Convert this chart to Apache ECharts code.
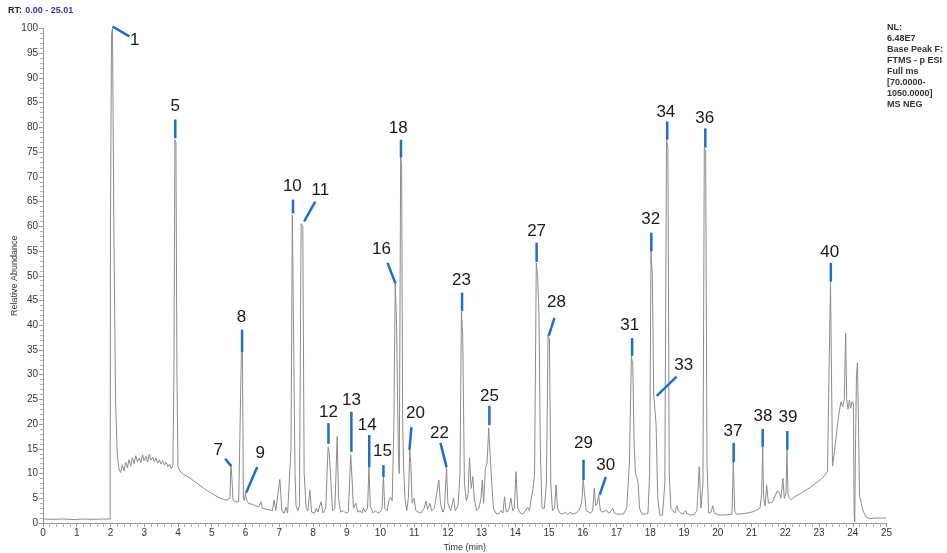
<!DOCTYPE html>
<html>
<head>
<meta charset="utf-8">
<script src="https://cdn.jsdelivr.net/npm/echarts@6/dist/echarts.min.js"></script>
<style>
  html, body { margin: 0; padding: 0; background: #fff; }
  #chart { width: 947px; height: 553px; }
</style>
</head>
<body>
<div id="chart"></div>
<script>
// base peak chromatogram as [time (min), relative abundance]
var trace = [
  [0,0.8],[0.3,0.75],[0.6,0.8],[0.9,0.7],[1.2,0.8],[1.5,0.75],[1.8,0.8],[1.99,0.8],
  [2.0,60],[2.03,99],[2.06,100],[2.1,60],[2.15,25],[2.2,14],[2.25,11],
  [2.3,10.2],[2.35,11.8],[2.4,10.5],[2.45,12.3],[2.5,11.2],[2.55,12.8],[2.6,11.5],[2.65,13.2],[2.7,12],
  [2.75,13.6],[2.8,12.4],[2.85,13.1],[2.9,12.2],[2.95,13.8],[3.0,12.6],[3.05,13.5],[3.1,12.3],[3.15,13.9],
  [3.2,12.7],[3.25,13.3],[3.3,12.4],[3.35,13.1],[3.4,12.1],[3.45,12.8],[3.5,11.9],[3.55,12.6],[3.6,11.7],
  [3.65,12.3],[3.7,11.4],[3.75,11.9],[3.8,11.0],[3.85,11.6],
  [3.88,30],[3.91,77.5],[3.94,77],[3.97,30],[4.0,11.5],[4.05,10.5],
  [4.1,10.8],[4.15,9.9],[4.2,10.3],[4.25,9.5],[4.3,9.9],[4.35,9.1],[4.4,9.4],[4.45,8.6],[4.5,8.9],[4.55,8.1],
  [4.6,8.4],[4.65,7.6],[4.7,7.9],[4.75,7.1],[4.8,7.4],[4.85,6.6],[4.9,6.9],[4.95,6.2],[5.0,6.5],[5.05,5.8],
  [5.1,6.0],[5.15,5.4],[5.2,5.6],[5.25,5.0],[5.3,5.3],[5.35,4.8],[5.4,5.0],[5.45,4.6],[5.5,4.8],[5.54,5.0],
  [5.57,11.8],[5.6,9],[5.63,4.6],[5.7,4.3],[5.75,4.1],[5.8,4.3],[5.85,4.0],
  [5.88,34.5],[5.91,35],[5.94,5],
  [5.97,4.5],[6.0,6.1],[6.03,4.8],[6.1,3.9],[6.15,3.6],[6.2,3.8],[6.25,3.4],[6.3,3.5],[6.35,3.2],[6.4,3.3],
  [6.46,4.3],[6.5,3.0],[6.55,3.2],[6.6,2.8],[6.65,2.6],[6.7,2.7],[6.75,2.4],[6.8,2.5],[6.85,4.6],[6.9,2.5],
  [6.95,2.2],[7.02,8.8],[7.08,2.4],[7.15,2.0],[7.2,3.2],[7.25,2.0],[7.3,2.2],[7.35,15],
  [7.39,62.3],[7.43,62],[7.47,10],[7.5,3.5],[7.55,2.5],[7.6,3.5],
  [7.65,60.5],[7.7,60],[7.74,10],[7.8,3],[7.85,2.5],[7.91,6.7],[7.96,2.2],[8.05,2],[8.1,3.0],[8.15,2.2],
  [8.24,4.3],[8.3,2.0],[8.38,3],
  [8.45,15.4],[8.48,14.5],[8.52,10],[8.58,2.5],[8.65,3],[8.72,17.5],[8.76,5],[8.82,2.2],[8.9,2.5],[8.97,2.0],[9.05,2.2],
  [9.12,13.8],[9.16,9],[9.2,3],[9.27,4],[9.33,2.2],[9.4,2.5],[9.45,2],[9.5,3],[9.55,2.2],[9.62,3],
  [9.66,11.4],[9.7,3.5],[9.78,2.0],[9.85,2.5],[9.92,2.0],[10.0,2.3],[10.05,3],
  [10.09,9.4],[10.13,3],[10.2,2.5],[10.25,4.5],[10.3,5.2],[10.35,4.5],[10.4,20],
  [10.44,48.5],[10.48,40],[10.53,15],[10.56,10],
  [10.6,73.9],[10.63,72],[10.66,20],[10.69,11],[10.73,5],[10.78,2.5],[10.83,5],
  [10.87,14.8],[10.9,12],[10.94,4],[11.0,5],[11.05,2.5],[11.12,2.2],[11.2,2.0],[11.3,3],[11.35,4.4],[11.4,2.8],
  [11.47,4],[11.52,2.5],[11.6,3],[11.67,6],[11.73,8.7],[11.78,4],[11.85,2.2],[11.9,3],
  [11.96,11.4],[12.0,4],[12.08,2.5],[12.17,5],[12.22,2.5],[12.3,3.5],[12.36,10],
  [12.4,42.8],[12.44,38],[12.49,8],[12.55,4.5],[12.6,6],[12.64,13.2],[12.69,7],[12.74,9.4],[12.78,5],
  [12.85,2.5],[12.92,3],[12.98,5],[13.02,8.7],[13.06,4],[13.11,11],[13.16,12],
  [13.21,19.2],[13.25,14],[13.3,8],[13.35,3],[13.42,2],[13.5,1.8],[13.58,2.5],[13.63,2],[13.68,5.3],[13.73,2.2],
  [13.8,2.5],[13.87,5],[13.92,2.5],[13.97,3],[14.02,10.4],[14.07,3],[14.15,2],[14.22,1.8],[14.3,2.5],[14.36,3.2],
  [14.42,2.5],[14.47,5],[14.52,6.7],[14.57,10],
  [14.62,52.6],[14.66,50],[14.7,42],[14.74,15],[14.79,3],[14.86,3],[14.92,8],
  [14.97,38],[15.01,37],[15.05,8],[15.1,2.5],[15.16,3],[15.21,7.7],[15.25,3],[15.32,2.0],[15.4,1.8],[15.48,2.2],
  [15.55,1.7],[15.62,2.2],[15.7,1.8],[15.8,2],[15.88,2.5],[15.94,3.5],[15.97,4.6],
  [16.01,8.7],[16.05,6],[16.1,2.5],[16.17,2.2],[16.23,2],[16.29,2.5],[16.34,7.1],[16.38,3.5],[16.43,4],[16.47,5.7],
  [16.52,2.5],[16.6,2.2],[16.65,1.8],[16.7,2.6],[16.76,2],[16.82,2.2],[16.88,3],[16.94,2.0],[17.0,1.8],[17.1,1.8],
  [17.2,1.8],[17.3,3],[17.38,12],
  [17.44,33.7],[17.48,32],[17.52,16],[17.56,10],[17.6,9.2],[17.64,8],[17.68,3],[17.75,1.8],[17.85,1.8],[17.93,2],[17.98,10],
  [18.02,54.9],[18.06,50],[18.1,26],[18.13,26.3],[18.17,20],[18.22,5],[18.28,1.6],[18.36,1.6],[18.43,8],
  [18.48,77.5],[18.52,76],[18.56,10],[18.61,3],[18.67,2.5],[18.73,2.0],[18.78,3.5],[18.83,2.5],[18.9,2.0],[18.97,1.8],
  [19.04,2.5],[19.1,1.8],[19.2,1.6],[19.3,1.7],[19.38,2.5],[19.45,11.4],[19.5,3],[19.56,8],
  [19.6,75.8],[19.64,75],[19.68,12],[19.73,2],[19.8,2.2],[19.85,3.5],[19.9,2],[20.0,1.7],[20.1,1.6],[20.2,1.6],
  [20.3,1.7],[20.42,1.8],
  [20.46,12.4],[20.5,2.5],[20.55,1.8],[20.65,1.8],[20.75,1.9],[20.85,2.0],[20.95,2.1],[21.05,2.3],[21.15,2.6],[21.25,3.0],[21.3,6],
  [21.33,15.4],[21.36,5],[21.4,3.5],[21.45,7.6],[21.5,4],[21.55,3.8],[21.62,4.2],[21.7,5.5],[21.76,6.5],[21.82,6.2],
  [21.87,5.0],[21.93,9],[21.97,5],[22.02,6],
  [22.05,14.8],[22.08,6],[22.12,5],[22.18,4.7],[22.25,5.2],[22.3,5.0],[22.35,5.6],[22.4,5.3],[22.45,5.9],[22.5,5.7],
  [22.55,6.4],[22.6,6.1],[22.65,6.8],[22.7,6.6],[22.75,7.2],[22.8,7.0],[22.85,7.8],[22.9,7.4],[22.95,8.3],[23.0,8.0],
  [23.05,8.8],[23.1,8.6],[23.15,9.5],[23.2,9.2],[23.25,10.4],[23.3,10.5],
  [23.34,48.8],[23.37,30],[23.4,11.5],[23.45,14],[23.5,17],[23.55,20],[23.6,22.5],[23.65,24.5],[23.7,23.5],[23.75,25],
  [23.79,38.4],[23.82,25],[23.86,23],[23.9,24.8],[23.94,23.2],[23.98,24.6],[24.02,24],[24.04,2],[24.06,0.2],
  [24.08,15],[24.11,30],[24.14,32.4],[24.17,20],[24.2,5.6],[24.25,4],[24.3,2.5],[24.4,1.2],[24.5,0.9],[24.7,1.0],
  [24.9,1.0],[25.0,1.0]
];

// peak numbers: [name, label time, label abundance, leader from (t, v), leader to (t, v)]
var peaks = [
  ['1', 2.72, 97.6, 2.06, 100.4, 2.56, 98.4],
  ['5', 3.92, 84.2, 3.92, 81.6, 3.92, 77.8],
  ['7', 5.19, 14.6, 5.40, 13.0, 5.58, 11.5],
  ['8', 5.88, 41.5, 5.90, 39.1, 5.90, 34.6],
  ['9', 6.44, 14.0, 6.35, 11.3, 6.02, 6.1],
  ['10', 7.39, 68.0, 7.41, 65.4, 7.41, 62.6],
  ['11', 8.22, 67.2, 8.07, 65.0, 7.74, 61.0],
  ['12', 8.46, 22.3, 8.46, 20.2, 8.46, 16.0],
  ['13', 9.14, 24.9, 9.14, 22.5, 9.14, 14.4],
  ['14', 9.61, 19.8, 9.67, 17.8, 9.67, 11.3],
  ['15', 10.06, 14.4, 10.09, 11.7, 10.09, 9.3],
  ['16', 10.03, 55.3, 10.21, 52.6, 10.45, 48.4],
  ['18', 10.53, 79.8, 10.61, 77.5, 10.61, 73.9],
  ['20', 11.04, 22.1, 10.92, 19.4, 10.86, 14.8],
  ['22', 11.75, 18.2, 11.78, 16.2, 11.96, 11.3],
  ['23', 12.40, 49.0, 12.42, 46.6, 12.42, 42.9],
  ['25', 13.23, 25.7, 13.23, 23.7, 13.23, 19.8],
  ['27', 14.63, 58.9, 14.63, 56.7, 14.63, 52.8],
  ['28', 15.22, 44.7, 15.16, 41.5, 14.99, 37.9],
  ['29', 16.02, 16.2, 16.02, 12.8, 16.02, 8.7],
  ['30', 16.68, 11.7, 16.68, 9.3, 16.50, 5.7],
  ['31', 17.39, 39.9, 17.46, 37.4, 17.46, 33.8],
  ['32', 18.01, 61.5, 18.03, 58.7, 18.03, 54.9],
  ['33', 18.99, 31.8, 18.78, 29.6, 18.19, 25.7],
  ['34', 18.46, 83.0, 18.50, 81.2, 18.50, 77.5],
  ['36', 19.61, 81.8, 19.63, 79.8, 19.63, 75.9],
  ['37', 20.45, 18.6, 20.47, 16.2, 20.47, 12.3],
  ['38', 21.34, 21.5, 21.33, 19.0, 21.33, 15.4],
  ['39', 22.08, 21.3, 22.06, 18.6, 22.06, 14.8],
  ['40', 23.32, 54.7, 23.35, 52.6, 23.35, 48.8]
];

var infoLines = ['NL:', '6.48E7', 'Base Peak F:', 'FTMS - p ESI', 'Full ms', '[70.0000-', '1050.0000]', 'MS NEG'];

var chart = echarts.init(document.getElementById('chart'));

var option = {
  backgroundColor: '#fff',
  animation: false,
  textStyle: { fontFamily: 'Liberation Sans, Arial, sans-serif' },
  grid: { left: 43, right: 60.5, top: 28.5, bottom: 30, containLabel: false, outerBoundsMode: 'none' },
  xAxis: {
    type: 'value', min: 0, max: 25, interval: 1,
    name: 'Time (min)', nameLocation: 'middle', nameGap: 19,
    nameTextStyle: { fontSize: 9, color: '#333' },
    axisLine: { lineStyle: { color: '#9a9a9a' } },
    axisTick: { length: 4, lineStyle: { color: '#9a9a9a' } },
    minorTick: { show: true, splitNumber: 5, length: 4, lineStyle: { color: '#b0b0b0' } },
    axisLabel: { fontSize: 10, color: '#333', margin: 5 },
    splitLine: { show: false }
  },
  yAxis: {
    type: 'value', min: 0, max: 100, interval: 5,
    name: 'Relative Abundance', nameLocation: 'middle', nameGap: 24, nameMoveOverlap: false,
    nameTextStyle: { fontSize: 9, color: '#333' },
    axisLine: { show: true, lineStyle: { color: '#9a9a9a' } },
    axisTick: { show: true, length: 4, lineStyle: { color: '#9a9a9a' } },
    minorTick: { show: true, splitNumber: 5, length: 3, lineStyle: { color: '#b0b0b0' } },
    axisLabel: { fontSize: 10, color: '#333', margin: 5 },
    splitLine: { show: false }
  },
  series: [
    {
      type: 'line',
      data: trace,
      showSymbol: false,
      lineStyle: { color: '#8c8c8c', width: 1 },
      z: 2
    },
    {
      type: 'custom',
      data: peaks.map(function (p) { return [p[1], p[2], p[3], p[4], p[5], p[6], p[0]]; }),
      clip: false,
      z: 5,
      renderItem: function (params, api) {
        var p = peaks[params.dataIndex];
        var lab = api.coord([p[1], p[2]]);
        var a = api.coord([p[3], p[4]]);
        var b = api.coord([p[5], p[6]]);
        return {
          type: 'group',
          children: [
            {
              type: 'line',
              shape: { x1: a[0], y1: a[1], x2: b[0], y2: b[1] },
              style: { stroke: '#1f6fc6', lineWidth: 2.5 }
            },
            {
              type: 'text',
              x: lab[0], y: lab[1],
              style: {
                text: p[0], fontSize: 17, fill: '#1a1a1a',
                fontFamily: 'Liberation Sans, Arial, sans-serif',
                align: 'center', verticalAlign: 'middle'
              }
            }
          ]
        };
      }
    }
  ],
  graphic: [
    {
      type: 'text', left: 8, top: 5,
      style: {
        text: '{k|RT:} {v|0.00 - 25.01}',
        rich: {
          k: { fontSize: 9, fontWeight: 'bold', fill: '#222' },
          v: { fontSize: 9, fontWeight: 'bold', fill: '#2d35b0' }
        }
      }
    },
    {
      type: 'text', left: 887, top: 22,
      style: {
        text: infoLines.join('\n'),
        fontSize: 9, fontWeight: 'bold', lineHeight: 11, fill: '#333'
      }
    }
  ]
};

chart.setOption(option);
</script>
</body>
</html>
